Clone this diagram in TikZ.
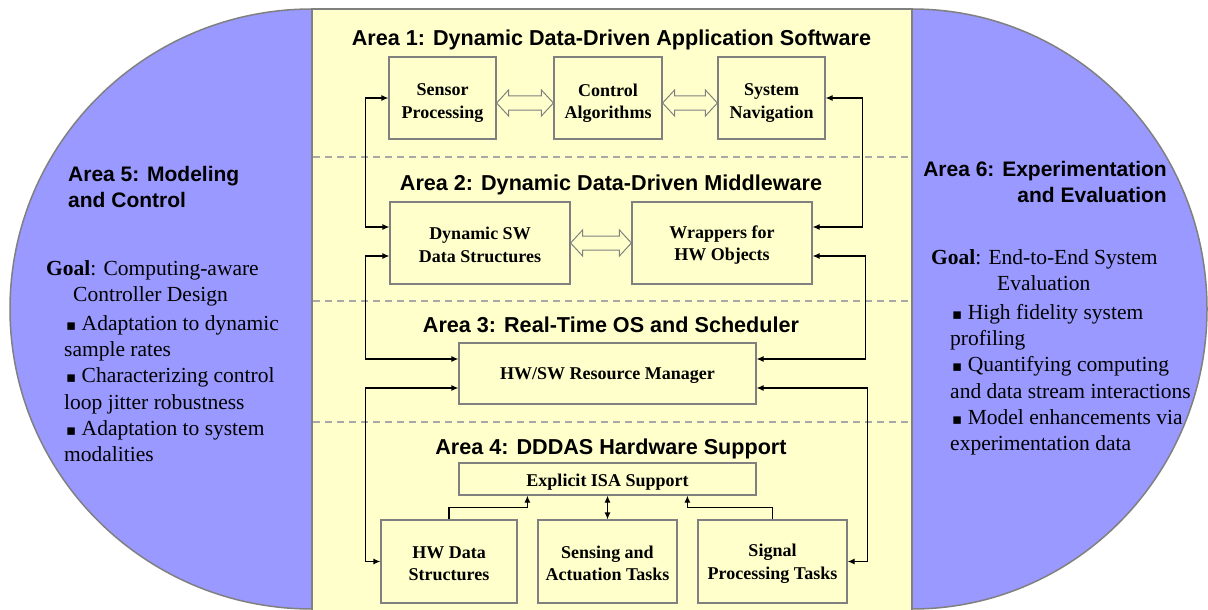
\documentclass[tikz,border=0pt]{standalone}
\usepackage{fontspec}
\setmainfont{Liberation Serif}
\newfontfamily\arialfont{Liberation Sans}
\newfontfamily\bulfont{DejaVu Sans}
\usetikzlibrary{arrows.meta,calc}
\definecolor{lav}{HTML}{9999FF}
\definecolor{pale}{HTML}{FFFFCC}
\definecolor{edgegray}{HTML}{808080}
\definecolor{dashgray}{HTML}{A8A8A8}
\newcommand\bul{{\bulfont\fontsize{15}{15}\selectfont ▪}}
\newcommand\hollowarrow[3]{%
  \coordinate (hA) at ($(#1)+(0,#3)$);
  \coordinate (hB) at ($(#2)+(0,#3)$);
  \draw[harrow] (hA) -- ($(hA)+(12,-13)$) -- ($(hA)+(12,-7)$) -- ($(hB)+(-12,-7)$) -- ($(hB)+(-12,-13)$) -- (hB) -- ($(hB)+(-12,13)$) -- ($(hB)+(-12,7)$) -- ($(hA)+(12,7)$) -- ($(hA)+(12,13)$) -- cycle;}
\begin{document}
\begin{tikzpicture}[x=1pt,y=-1pt,
  box/.style={draw=edgegray,line width=1.2pt,inner sep=0pt},
  boxtext/.style={align=center,inner sep=0pt,font=\fontsize{18}{22.5}\selectfont\bfseries},
  areattl/.style={font=\arialfont\bfseries\fontsize{21}{26}\selectfont,inner sep=0pt},
  midttl/.style={areattl,font=\arialfont\bfseries\fontsize{21.6}{26}\selectfont,anchor=base},
  bodytxt/.style={font=\fontsize{21.5}{26.2}\selectfont,align=left,inner sep=0pt},
  link/.style={line width=1.2pt,{Latex[length=7pt,width=6pt]}-{Latex[length=7pt,width=6pt]}},
  onelink/.style={line width=1.2pt,-{Latex[length=7pt,width=6pt]}},
  harrow/.style={draw=edgegray,fill=pale,line width=1pt,line join=miter},
  lobe/.style={draw=edgegray,fill=lav,line width=1.5pt},
  sep/.style={draw=dashgray,line width=1.5pt,dash pattern=on 7pt off 5pt}]
\useasboundingbox (0,0) rectangle (1208,610);
\fill[white] (0,0) rectangle (1208,610);
% side lobes and central panel
\draw[lobe] (312,309) ellipse [x radius=302,y radius=300];
\draw[lobe] (912,309) ellipse [x radius=295,y radius=300];
\draw[draw=edgegray,fill=pale,line width=1.5pt] (312,9) rectangle (912,616);
\draw[sep] (313,157) -- (911,157);
\draw[sep] (313,301) -- (911,301);
\draw[sep] (313,422) -- (911,422);
% area titles
\node[midttl] (t1) at (611.5,45.5) {Area 1: Dynamic Data-Driven Application Software};
\node[midttl] (t2) at (611,190.5) {Area 2: Dynamic Data-Driven Middleware};
\node[midttl] (t3) at (611,332.5) {Area 3: Real-Time OS and Scheduler};
\node[midttl] (t4) at (611,454.5) {Area 4: DDDAS Hardware Support};
\node[areattl,anchor=north west,align=left] (t5) at (68,166) {Area 5: Modeling\\and Control};
\node[areattl,anchor=north east,align=right] (t6) at (1167,161) {Area 6: Experimentation\\and Evaluation};
% goal texts
\node[bodytxt,anchor=north west] (g5) at (46,260) {\textbf{Goal}: Computing-aware\\\hspace*{27pt}Controller Design\\[3pt]\hspace*{20pt}\bul\ Adaptation to dynamic\\\hspace*{18pt}sample rates\\\hspace*{20pt}\bul\ Characterizing control\\\hspace*{18pt}loop jitter robustness\\\hspace*{20pt}\bul\ Adaptation to system\\\hspace*{18pt}modalities};
\node[bodytxt,anchor=north west] (g6) at (931,249) {\textbf{Goal}: End-to-End System\\\hspace*{66pt}Evaluation\\[3pt]\hspace*{21pt}\bul\ High fidelity system\\\hspace*{19pt}profiling\\\hspace*{21pt}\bul\ Quantifying computing\\\hspace*{19pt}and data stream interactions\\\hspace*{21pt}\bul\ Model enhancements via\\\hspace*{19pt}experimentation data};
% boxes
\node[box,minimum width=107pt,minimum height=82pt,label={[boxtext,name=sptx,yshift=-5pt]center:Sensor\\Processing}] (sp) at (442.5,98) {};
\node[box,minimum width=108pt,minimum height=82pt,label={[boxtext,name=catx,yshift=-5pt]center:Control\\Algorithms}] (ca) at (608,98) {};
\node[box,minimum width=107pt,minimum height=82pt,label={[boxtext,name=sntx,yshift=-5pt]center:System\\Navigation}] (sn) at (771.5,98) {};
\node[box,minimum width=180pt,minimum height=82pt,label={[boxtext,name=dswtx,yshift=-2pt]center:Dynamic SW\\Data Structures}] (dsw) at (480,243) {};
\node[box,minimum width=180pt,minimum height=82pt,label={[boxtext,name=wrtx,yshift=-2pt]center:Wrappers for\\HW Objects}] (wr) at (722,243) {};
\node[box,minimum width=297pt,minimum height=61pt,label={[boxtext,name=rmtx,yshift=-2.5pt]center:HW/SW Resource Manager}] (rm) at (607.5,373.5) {};
\node[box,minimum width=297pt,minimum height=32pt,label={[boxtext,name=isatx,yshift=-3pt]center:Explicit ISA Support}] (isa) at (607.5,479) {};
\node[box,minimum width=136pt,minimum height=83pt,label={[boxtext,name=hwdtx,yshift=-2pt]center:HW Data\\Structures}] (hwd) at (449,561.5) {};
\node[box,minimum width=139pt,minimum height=83pt,label={[boxtext,name=sattx,yshift=-2pt]center:Sensing and\\Actuation Tasks}] (sat) at (607.5,561.5) {};
\node[box,minimum width=149pt,minimum height=83pt,label={[boxtext,name=spttx,yshift=-2pt]center:Signal\\Processing Tasks}] (spt) at (772.5,561.5) {};
% hollow arrows
\hollowarrow{sp.east}{ca.west}{5}
\hollowarrow{ca.east}{sn.west}{5}
\hollowarrow{dsw.east}{wr.west}{0}
% connectors
\draw[link] (sp.west) -- ++(-23,0) |- ($(dsw.west)+(0,-16)$);
\draw[link] (sn.east) -- ++(37,0) |- ($(wr.east)+(0,-16)$);
\draw[link] ($(dsw.west)+(0,13)$) -- ++(-24,0) |- ($(rm.west)+(0,-14.5)$);
\draw[link] ($(wr.east)+(0,13)$) -- ++(53,0) |- ($(rm.east)+(0,-14.5)$);
\draw[link] ($(rm.west)+(0,14.5)$) -- ++(-93,0) |- (hwd.west);
\draw[link] ($(rm.east)+(0,14.5)$) -- ++(111,0) |- (spt.east);
\draw[onelink] (hwd.north) -- ++(0,-12) -| ($(isa.south west)+(69,0)$);
\draw[link] (sat.north) -- (isa.south);
\draw[onelink] (spt.north) -- ++(0,-12) -| ($(isa.south west)+(229,0)$);
\end{tikzpicture}
\end{document}
